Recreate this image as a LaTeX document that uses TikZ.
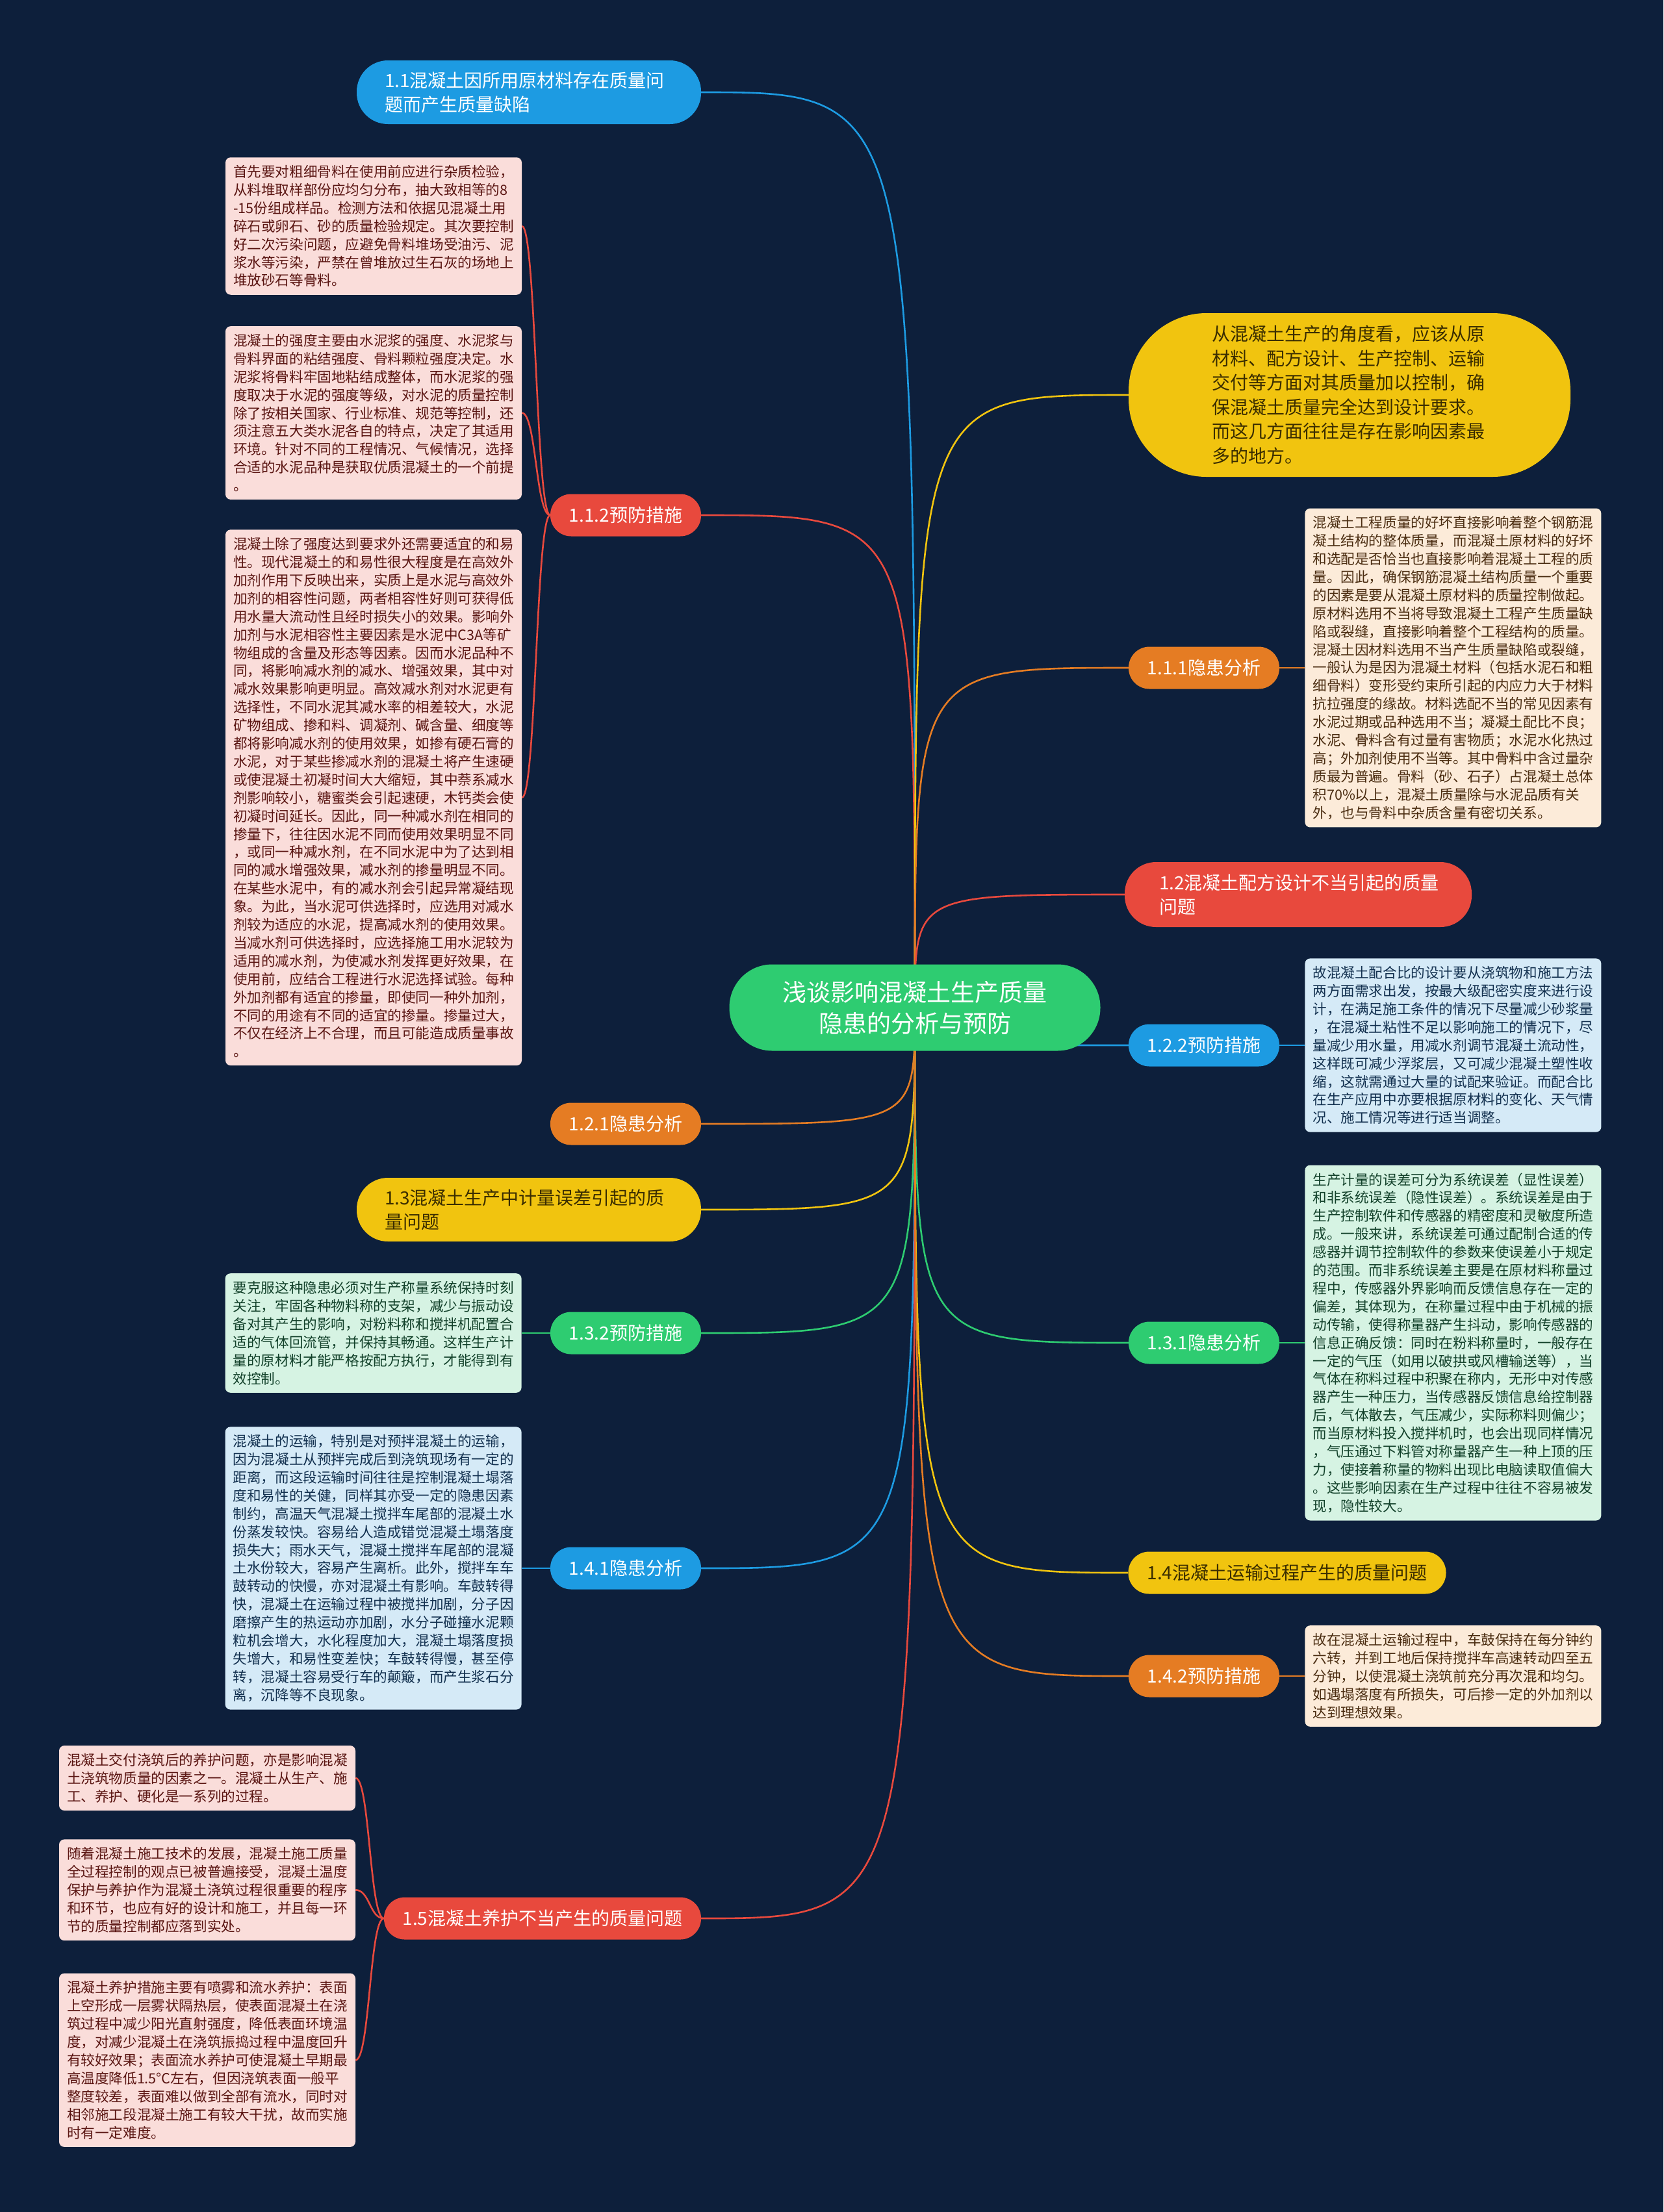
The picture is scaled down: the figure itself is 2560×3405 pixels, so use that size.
\documentclass[tikz,border=0pt]{standalone}
\usepackage{fontspec}
\setmainfont{Noto Sans CJK SC}
\usepackage{tikz}
\usetikzlibrary{positioning,backgrounds}
\definecolor{bgnavy}{HTML}{0D1F3B}
\definecolor{mapblue}{HTML}{1D9BE2}
\definecolor{mapred}{HTML}{E8493D}
\definecolor{maporange}{HTML}{E57C23}
\definecolor{mapyellow}{HTML}{F1C40F}
\definecolor{mapgreen}{HTML}{2ECC71}
\definecolor{notepink}{HTML}{FADDDA}
\definecolor{notepeach}{HTML}{FCEBD9}
\definecolor{noteblue}{HTML}{D5EAF7}
\definecolor{notegreen}{HTML}{D6F3E3}
\definecolor{inkred}{HTML}{5A1512}
\definecolor{inkbrown}{HTML}{4A2C10}
\definecolor{inkblue}{HTML}{12304F}
\definecolor{inkgreen}{HTML}{12412A}
\definecolor{inkyellow}{HTML}{3A2D00}

\begin{document}
\begin{tikzpicture}[x=1pt, y=-1pt,
	root/.style={rectangle, rounded corners=66pt, fill=mapgreen, text=white, minimum width=571pt, minimum height=133pt, align=center, font={\fontsize{37pt}{48pt}\selectfont}},
	pill/.style={rectangle, rounded corners=32pt, minimum width=232pt, minimum height=65pt, inner sep=0pt, text=white, font={\fontsize{28pt}{37pt}\selectfont}},
	widepill/.style={pill, rounded corners=48pt, minimum height=98pt, inner xsep=43pt, text width=444pt, align=left},
	bigpill/.style={rectangle, rounded corners=120pt, fill=mapyellow, text=inkyellow, minimum width=680pt, minimum height=252pt, inner sep=0pt, text width=424pt, align=left, font={\fontsize{28pt}{37.5pt}\selectfont}},
	note/.style={rectangle, rounded corners=8pt, text width=432pt, inner xsep=12pt, inner ysep=12pt, align=left, font={\fontsize{21.6pt}{27.9pt}\selectfont}},
	pinknote/.style={note, fill=notepink, text=inkred},
	peachnote/.style={note, fill=notepeach, text=inkbrown},
	bluenote/.style={note, fill=noteblue, text=inkblue},
	greennote/.style={note, fill=notegreen, text=inkgreen},
	edge/.style={line width=2.6pt}]

	\begin{scope}[on background layer]
		\fill [bgnavy] (0,0) rectangle (2560,3405);
	\end{scope}
	\useasboundingbox (0,0) rectangle (2560,3405);

	\node [root] (root) at (1408,1551) {浅谈影响混凝土生产质量\\隐患的分析与预防};

	% left side
	\node [widepill, fill=mapblue] (p11) at (814,142) {1.1混凝土因所用原材料存在质量问\\题而产生质量缺陷};
	\node [pill, fill=mapred] (p112) at (963,793) {1.1.2预防措施};
	\node [pill, fill=maporange] (p121) at (963,1730) {1.2.1隐患分析};
	\node [widepill, fill=mapyellow, text=inkyellow] (p13) at (814,1862) {1.3混凝土生产中计量误差引起的质\\量问题};
	\node [pill, fill=mapgreen] (p132) at (963,2052) {1.3.2预防措施};
	\node [pill, fill=mapblue] (p141) at (963,2414) {1.4.1隐患分析};
	\node [pill, fill=mapred, minimum width=488pt] (p15) at (835,2953) {1.5混凝土养护不当产生的质量问题};

	% right side
	\node [bigpill] (pview) at (2077,608) {从混凝土生产的角度看，应该从原\\材料、配方设计、生产控制、运输\\交付等方面对其质量加以控制，确\\保混凝土质量完全达到设计要求。\\而这几方面往往是存在影响因素最\\多的地方。};
	\node [pill, fill=maporange] (p111) at (1853,1028) {1.1.1隐患分析};
	\node [widepill, fill=mapred, minimum height=100pt, inner xsep=53pt, text width=428pt] (p12) at (1998,1377) {1.2混凝土配方设计不当引起的质量\\问题};
	\node [pill, fill=mapblue] (p122) at (1853,1609) {1.2.2预防措施};
	\node [pill, fill=mapgreen] (p131) at (1853,2067) {1.3.1隐患分析};
	\node [pill, fill=mapyellow, text=inkyellow, minimum width=489pt] (p14) at (1981,2421) {1.4混凝土运输过程产生的质量问题};
	\node [pill, fill=maporange] (p142) at (1853,2580) {1.4.2预防措施};

	% notes
	\node [pinknote] (n112a) at (575,348) {首先要对粗细骨料在使用前应进行杂质检验，\\从料堆取样部份应均匀分布，抽大致相等的8\\-15份组成样品。检测方法和依据见混凝土用\\碎石或卵石、砂的质量检验规定。其次要控制\\好二次污染问题，应避免骨料堆场受油污、泥\\浆水等污染，严禁在曾堆放过生石灰的场地上\\堆放砂石等骨料。};
	\node [pinknote, below=48pt of n112a] (n112b) {混凝土的强度主要由水泥浆的强度、水泥浆与\\骨料界面的粘结强度、骨料颗粒强度决定。水\\泥浆将骨料牢固地粘结成整体，而水泥浆的强\\度取决于水泥的强度等级，对水泥的质量控制\\除了按相关国家、行业标准、规范等控制，还\\须注意五大类水泥各自的特点，决定了其适用\\环境。针对不同的工程情况、气候情况，选择\\合适的水泥品种是获取优质混凝土的一个前提\\。};
	\node [pinknote, below=46pt of n112b] (n112c) {混凝土除了强度达到要求外还需要适宜的和易\\性。现代混凝土的和易性很大程度是在高效外\\加剂作用下反映出来，实质上是水泥与高效外\\加剂的相容性问题，两者相容性好则可获得低\\用水量大流动性且经时损失小的效果。影响外\\加剂与水泥相容性主要因素是水泥中C3A等矿\\物组成的含量及形态等因素。因而水泥品种不\\同，将影响减水剂的减水、增强效果，其中对\\减水效果影响更明显。高效减水剂对水泥更有\\选择性，不同水泥其减水率的相差较大，水泥\\矿物组成、掺和料、调凝剂、碱含量、细度等\\都将影响减水剂的使用效果，如掺有硬石膏的\\水泥，对于某些掺减水剂的混凝土将产生速硬\\或使混凝土初凝时间大大缩短，其中萘系减水\\剂影响较小，糖蜜类会引起速硬，木钙类会使\\初凝时间延长。因此，同一种减水剂在相同的\\掺量下，往往因水泥不同而使用效果明显不同\\，或同一种减水剂，在不同水泥中为了达到相\\同的减水增强效果，减水剂的掺量明显不同。\\在某些水泥中，有的减水剂会引起异常凝结现\\象。为此，当水泥可供选择时，应选用对减水\\剂较为适应的水泥，提高减水剂的使用效果。\\当减水剂可供选择时，应选择施工用水泥较为\\适用的减水剂，为使减水剂发挥更好效果，在\\使用前，应结合工程进行水泥选择试验。每种\\外加剂都有适宜的掺量，即使同一种外加剂，\\不同的用途有不同的适宜的掺量。掺量过大，\\不仅在经济上不合理，而且可能造成质量事故\\。};
	\node [greennote, left=44pt of p132] (n132) {要克服这种隐患必须对生产称量系统保持时刻\\关注，牢固各种物料称的支架，减少与振动设\\备对其产生的影响，对粉料称和搅拌机配置合\\适的气体回流管，并保持其畅通。这样生产计\\量的原材料才能严格按配方执行，才能得到有\\效控制。};
	\node [bluenote, left=44pt of p141] (n141) {混凝土的运输，特别是对预拌混凝土的运输，\\因为混凝土从预拌完成后到浇筑现场有一定的\\距离，而这段运输时间往往是控制混凝土塌落\\度和易性的关健，同样其亦受一定的隐患因素\\制约，高温天气混凝土搅拌车尾部的混凝土水\\份蒸发较快。容易给人造成错觉混凝土塌落度\\损失大；雨水天气，混凝土搅拌车尾部的混凝\\土水份较大，容易产生离析。此外，搅拌车车\\鼓转动的快慢，亦对混凝土有影响。车鼓转得\\快，混凝土在运输过程中被搅拌加剧，分子因\\磨擦产生的热运动亦加剧，水分子碰撞水泥颗\\粒机会增大，水化程度加大，混凝土塌落度损\\失增大，和易性变差快；车鼓转得慢，甚至停\\转，混凝土容易受行车的颠簸，而产生浆石分\\离，沉降等不良现象。};
	\node [pinknote] (n15a) at (319,2737) {混凝土交付浇筑后的养护问题，亦是影响混凝\\土浇筑物质量的因素之一。混凝土从生产、施\\工、养护、硬化是一系列的过程。};
	\node [pinknote, below=44pt of n15a] (n15b) {随着混凝土施工技术的发展，混凝土施工质量\\全过程控制的观点已被普遍接受，混凝土温度\\保护与养护作为混凝土浇筑过程很重要的程序\\和环节，也应有好的设计和施工，并且每一环\\节的质量控制都应落到实处。};
	\node [pinknote, below=50pt of n15b] (n15c) {混凝土养护措施主要有喷雾和流水养护：表面\\上空形成一层雾状隔热层，使表面混凝土在浇\\筑过程中减少阳光直射强度，降低表面环境温\\度，对减少混凝土在浇筑振捣过程中温度回升\\有较好效果；表面流水养护可使混凝土早期最\\高温度降低1.5°C左右，但因浇筑表面一般平\\整度较差，表面难以做到全部有流水，同时对\\相邻施工段混凝土施工有较大干扰，故而实施\\时有一定难度。};
	\node [peachnote, right=39pt of p111] (n111) {混凝土工程质量的好坏直接影响着整个钢筋混\\凝土结构的整体质量，而混凝土原材料的好坏\\和选配是否恰当也直接影响着混凝土工程的质\\量。因此，确保钢筋混凝土结构质量一个重要\\的因素是要从混凝土原材料的质量控制做起。\\原材料选用不当将导致混凝土工程产生质量缺\\陷或裂缝，直接影响着整个工程结构的质量。\\混凝土因材料选用不当产生质量缺陷或裂缝，\\一般认为是因为混凝土材料（包括水泥石和粗\\细骨料）变形受约束所引起的内应力大于材料\\抗拉强度的缘故。材料选配不当的常见因素有\\水泥过期或品种选用不当；凝凝土配比不良；\\水泥、骨料含有过量有害物质；水泥水化热过\\高；外加剂使用不当等。其中骨料中含过量杂\\质最为普遍。骨料（砂、石子）占混凝土总体\\积70\%以上，混凝土质量除与水泥品质有关\\外，也与骨料中杂质含量有密切关系。};
	\node [bluenote, right=39pt of p122] (n122) {故混凝土配合比的设计要从浇筑物和施工方法\\两方面需求出发，按最大级配密实度来进行设\\计，在满足施工条件的情况下尽量减少砂浆量\\，在混凝土粘性不足以影响施工的情况下，尽\\量减少用水量，用减水剂调节混凝土流动性，\\这样既可减少浮浆层，又可减少混凝土塑性收\\缩，这就需通过大量的试配来验证。而配合比\\在生产应用中亦要根据原材料的变化、天气情\\况、施工情况等进行适当调整。};
	\node [greennote, right=39pt of p131] (n131) {生产计量的误差可分为系统误差（显性误差）\\和非系统误差（隐性误差）。系统误差是由于\\生产控制软件和传感器的精密度和灵敏度所造\\成。一般来讲，系统误差可通过配制合适的传\\感器并调节控制软件的参数来使误差小于规定\\的范围。而非系统误差主要是在原材料称量过\\程中，传感器外界影响而反馈信息存在一定的\\偏差，其体现为，在称量过程中由于机械的振\\动传输，使得称量器产生抖动，影响传感器的\\信息正确反馈：同时在粉料称量时，一般存在\\一定的气压（如用以破拱或风槽输送等），当\\气体在称料过程中积聚在称内，无形中对传感\\器产生一种压力，当传感器反馈信息给控制器\\后，气体散去，气压减少，实际称料则偏少；\\而当原材料投入搅拌机时，也会出现同样情况\\，气压通过下料管对称量器产生一种上顶的压\\力，使接着称量的物料出现比电脑读取值偏大\\。这些影响因素在生产过程中往往不容易被发\\现，隐性较大。};
	\node [peachnote, right=39pt of p142] (n142) {故在混凝土运输过程中，车鼓保持在每分钟约\\六转，并到工地后保持搅拌车高速转动四至五\\分钟，以使混凝土浇筑前充分再次混和均匀。\\如遇塌落度有所损失，可后掺一定的外加剂以\\达到理想效果。};

	\begin{scope}[on background layer]
		% branches from the root
		\draw [edge, mapblue] (root.center) .. controls (root.center |- p11.east) .. (p11.east);
		\draw [edge, mapred] (root.center) .. controls (root.center |- p112.east) .. (p112.east);
		\draw [edge, maporange] (root.center) .. controls (root.center |- p121.east) .. (p121.east);
		\draw [edge, mapyellow] (root.center) .. controls (root.center |- p13.east) .. (p13.east);
		\draw [edge, mapgreen] (root.center) .. controls (root.center |- p132.east) .. (p132.east);
		\draw [edge, mapblue] (root.center) .. controls (root.center |- p141.east) .. (p141.east);
		\draw [edge, mapred] (root.center) .. controls (root.center |- p15.east) .. (p15.east);
		\draw [edge, mapyellow] (root.center) .. controls (root.center |- pview.west) .. (pview.west);
		\draw [edge, maporange] (root.center) .. controls (root.center |- p111.west) .. (p111.west);
		\draw [edge, mapred] (root.center) .. controls (root.center |- p12.west) .. (p12.west);
		\draw [edge, mapblue] (root.center) .. controls (root.center |- p122.west) .. (p122.west);
		\draw [edge, mapgreen] (root.center) .. controls (root.center |- p131.west) .. (p131.west);
		\draw [edge, mapyellow] (root.center) .. controls (root.center |- p14.west) .. (p14.west);
		\draw [edge, maporange] (root.center) .. controls (root.center |- p142.west) .. (p142.west);

		% notes on the branches
		\draw [edge, mapred] (p112.west) .. controls +(-22,0) and +(22,0) .. (n112a.east);
		\draw [edge, mapred] (p112.west) .. controls +(-22,0) and +(22,0) .. (n112b.east);
		\draw [edge, mapred] (p112.west) .. controls +(-22,0) and +(22,0) .. (n112c.east);
		\draw [edge, mapgreen] (p132.west) -- (n132.east);
		\draw [edge, mapblue] (p141.west) -- (n141.east);
		\draw [edge, mapred] (p15.west) .. controls +(-22,0) and +(22,0) .. (n15a.east);
		\draw [edge, mapred] (p15.west) .. controls +(-22,0) and +(22,0) .. (n15b.east);
		\draw [edge, mapred] (p15.west) .. controls +(-22,0) and +(22,0) .. (n15c.east);
		\draw [edge, maporange] (p111.east) -- (n111.west);
		\draw [edge, mapblue] (p122.east) -- (n122.west);
		\draw [edge, mapgreen] (p131.east) -- (n131.west);
		\draw [edge, maporange] (p142.east) -- (n142.west);
	\end{scope}

\end{tikzpicture}
\end{document}
